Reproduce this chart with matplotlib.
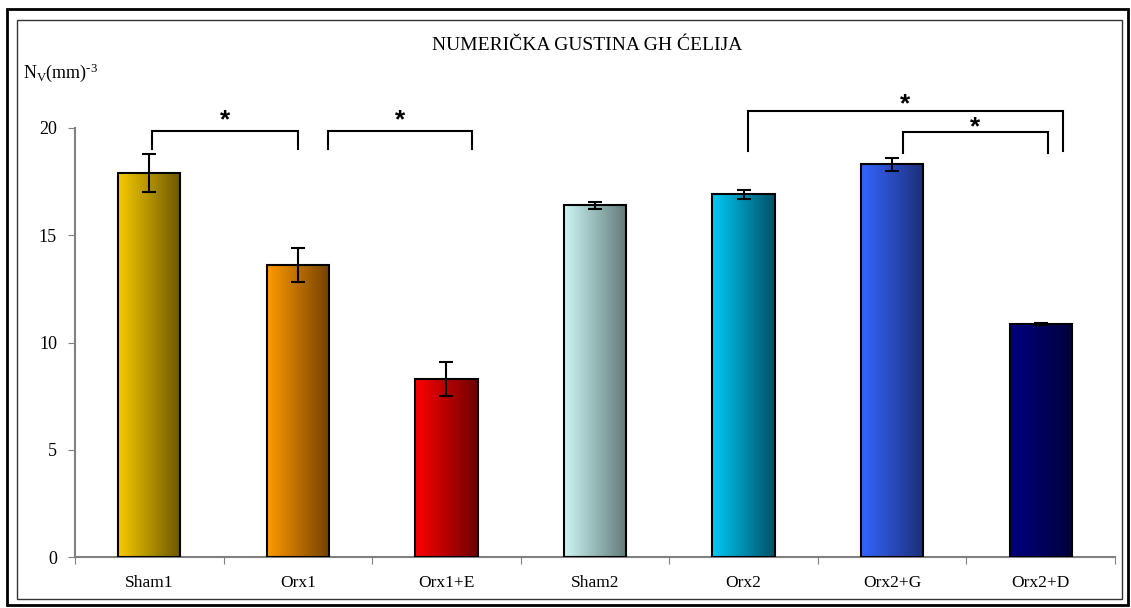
import numpy as np
import matplotlib.pyplot as plt
from matplotlib.patches import Rectangle
from matplotlib.colors import LinearSegmentedColormap

plt.rcParams['font.family'] = ['Liberation Serif', 'DejaVu Serif']
plt.rcParams['mathtext.fontset'] = 'custom'
plt.rcParams['mathtext.rm'] = 'Liberation Serif'

groups = ['Sham1', 'Orx1', 'Orx1+E', 'Sham2', 'Orx2', 'Orx2+G', 'Orx2+D']
values = [17.9, 13.6, 8.3, 16.4, 16.9, 18.3, 10.85]
errors = [0.87, 0.8, 0.8, 0.17, 0.2, 0.3, 0.05]
# gradient colours, light (left) -> dark (right)
light = ['#f7cb00', '#ff9a00', '#ff0000', '#cbf7f5', '#00cbf5', '#3466ff', '#000080']
dark = ['#6b5600', '#734000', '#6e0000', '#627a78', '#005068', '#1d2e78', '#00003c']

# significance brackets: (x left, x right, top, bottom left, bottom right, star y)
brackets = [
    (0.02, 1.0, 19.85, 19.0, 19.0, 20.37),
    (1.2, 2.17, 19.85, 19.0, 19.0, 20.37),
    (4.03, 6.15, 20.8, 18.95, 18.95, 21.12),
    (5.07, 6.05, 19.8, 18.85, 18.85, 20.05),
]

W, H = 1131, 608
fig = plt.figure(figsize=(W / 100, H / 100), dpi=100)

# outer frames
fig.patches.append(Rectangle((7 / W, 3 / H), 1121 / W, 596 / H, transform=fig.transFigure,
                             fill=False, ec='black', lw=2))
fig.patches.append(Rectangle((16.5 / W, 9.5 / H), 1105 / W, 579 / H, transform=fig.transFigure,
                             fill=False, ec='#333333', lw=1))

ax = fig.add_axes([75 / W, 51 / H, 1040 / W, 429 / H])
x = np.arange(len(groups))
bars = ax.bar(x, values, width=0.42, color='none', edgecolor='black', lw=1.5, zorder=3)
ramp = np.linspace(0, 1, 256).reshape(1, -1)
for b, c0, c1 in zip(bars, light, dark):
    cmap = LinearSegmentedColormap.from_list('g', [c0, c1])
    x0, w, h = b.get_x(), b.get_width(), b.get_height()
    ax.imshow(ramp, cmap=cmap, aspect='auto', extent=(x0, x0 + w, 0, h), zorder=2,
              interpolation='bilinear')
ax.errorbar(x, values, yerr=errors, fmt='none', ecolor='black', elinewidth=1.5,
            capsize=5, capthick=1.5, zorder=4)

ax.set_xlim(-0.5, len(groups) - 0.5)
ax.set_ylim(0, 20)
ax.set_yticks([0, 5, 10, 15, 20])
ax.set_xticks(np.arange(len(groups) + 1) - 0.5)
ax.set_xticklabels([])
ax.set_xticks(x, minor=True)
ax.set_xticklabels(groups, minor=True)
ax.tick_params(axis='x', which='minor', length=0, pad=13, labelsize=12.5)
ax.tick_params(axis='x', which='major', length=5, color='#808080', direction='out')
ax.tick_params(axis='y', length=5, color='#808080', pad=8, labelsize=13)
for s in ['top', 'right']:
    ax.spines[s].set_visible(False)
for s in ['left', 'bottom']:
    ax.spines[s].set_color('#808080')
    ax.spines[s].set_linewidth(1.5)

for xl, xr, top, bl, br, sy in brackets:
    ax.plot([xl, xl, xr, xr], [bl, top, top, br], color='black', lw=1.5, clip_on=False,
            solid_joinstyle='miter')
    ax.text((xl + xr) / 2, sy, '*', ha='center', va='center', fontsize=19,
            fontweight='bold', family='Liberation Sans', clip_on=False)

fig.text(587 / W, 1 - 45 / H, 'NUMERIČKA GUSTINA GH ĆELIJA', ha='center', va='center',
         fontsize=14)
fig.text(23 / W, 1 - 73 / H, r'$\mathregular{N_V(mm)^{\text{-}3}}$', ha='left', va='center',
         fontsize=13)

fig.savefig('out.png', dpi=100)
